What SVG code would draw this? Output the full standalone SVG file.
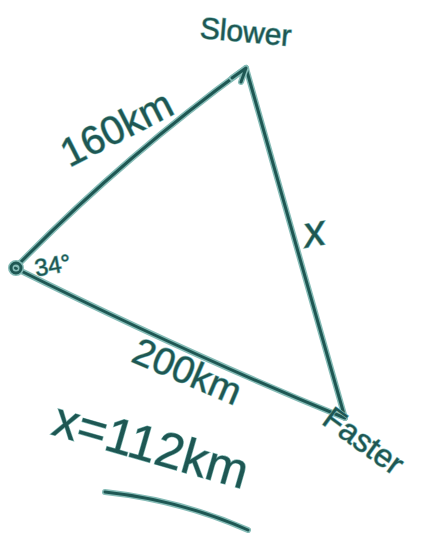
<svg xmlns="http://www.w3.org/2000/svg" width="425" height="533" viewBox="0 0 425 533">
<style>
.h{fill:none;stroke:#86bcb7;stroke-width:6;stroke-linecap:round;stroke-linejoin:round}
.d{fill:none;stroke:#1e5753;stroke-width:3;stroke-linecap:round;stroke-linejoin:round}
.t{font-family:"Liberation Sans",sans-serif;fill:#1e5753;stroke:#86bcb7;stroke-width:1.2;paint-order:stroke}
</style>
<rect width="425" height="533" fill="#fff"/>
<g id="connectors">
<path class="h" d="M15,268 Q120,160 246,68"/>
<path class="d" d="M15,268 Q120,160 246,68"/>
<path class="h" d="M246,68 L345,418"/>
<path class="d" d="M246,68 L345,418"/>
<path class="h" d="M15,268 Q190,355 345,418"/>
<path class="d" d="M15,268 Q190,355 345,418"/>
<path class="h" d="M232,78 L246,68 L241,82"/>
<path class="d" d="M232,78 L246,68 L241,82"/>
<path class="h" d="M105,492 Q180,500 248,530"/>
<path class="d" d="M105,492 Q180,500 248,530"/>
</g>
<g id="vertex-left">
<circle class="h" cx="16" cy="268" r="5"/>
<circle class="d" cx="16" cy="268" r="5"/>
</g>
<g id="label-slower"><text class="t" x="200" y="42" font-size="30" transform="rotate(5 245 30)">Slower</text></g>
<g id="label-160"><text class="t" x="52" y="144" font-size="40" transform="rotate(-27 110 120)">160km</text></g>
<g id="label-x"><text class="t" x="303" y="245" font-size="44" font-style="italic" transform="rotate(-10 320 230)">x</text></g>
<g id="label-angle"><text class="t" x="34" y="274" font-size="24" transform="rotate(-10 50 262)">34°</text></g>
<g id="label-200"><text class="t" x="122" y="385" font-size="38" transform="rotate(23 185 392)">200km</text></g>
<g id="label-faster"><text class="t" x="324" y="428" font-size="32" transform="rotate(36 330 420)">Faster</text></g>
<g id="label-answer"><text class="t" x="45" y="460" font-size="50" transform="rotate(16 140 465)">x=112km</text></g>
</svg>
